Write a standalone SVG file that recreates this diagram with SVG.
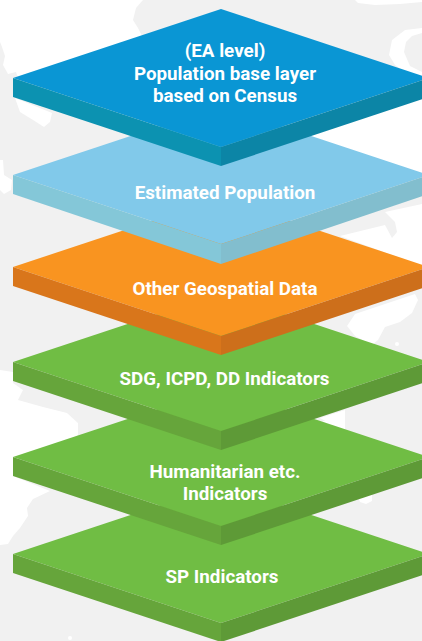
<svg xmlns="http://www.w3.org/2000/svg" width="422" height="641" viewBox="0 0 422 641">
<style>
text{font-family:Roboto,"Liberation Sans",sans-serif;font-weight:700;font-size:18.8px;fill:#fff;text-anchor:middle}
.w{fill:#fff}
.g1{fill:#70bd44}.g2{fill:#66a53b}.g3{fill:#5e9a37}
</style>
<rect width="422" height="641" fill="#f1f1f1"/>
<g id="map">
<path class="w" d="M0 0H143L136 8L133 20L138 28L142 36L18 78L16 72L8 74L3 65L5 56L2 47L0 42Z"/>
<path class="w" d="M15 98L52 113L50 122L44 127L33 120L20 112Z"/>
<path class="w" d="M0 160L3 160L4 175L12 180L11 190L4 194L0 190Z"/>
<path class="w" d="M355 0H422V2L400 4L375 5L358 3Z"/>
<path class="w" d="M422 28L405 30L392 40L389 55L395 65L405 72L422 78V72L410 66L404 52L406 42L412 36L422 33Z"/>
<path class="w" d="M300 130L422 85V176L315 140Z"/>
<path class="w" d="M385 212L422 204V266L340 236L385 225L392 238L397 232L395 222Z"/>
<path class="w" d="M355 314L415 294L418 300L412 313L400 322L385 327L378 340L372 345L355 336L347 326Z"/>
<circle class="w" cx="397" cy="344" r="2"/>
<path class="w" d="M320 418L345 410V430L338 428Z"/>
<path class="w" d="M322 421H344V428L335 428Z"/>
<path class="w" d="M358 497L372 492V501L366 504L360 502Z"/>
<path class="w" d="M0 370L13 372L13 383L23 390L18 400L43 407L67 413L78 423L78 435L70 440L20 458L13 476L50 491L33 499L27 508L28 516L20 528L13 536L8 544L0 545Z"/>
<circle class="w" cx="70" cy="638" r="2"/>
</g>
<g id="connectors"></g>
<g id="sp-indicators">
<path class="g1" d="M221 485L429 554L221 623L13 554Z"/><path class="g2" d="M13 554L221 623V642L13 573Z"/><path class="g3" d="M221 623L429 554V573L221 642Z"/>
<text x="222" y="583">SP Indicators</text>
</g>
<g id="humanitarian-indicators">
<path class="g1" d="M221 388L429 457L221 526L13 457Z"/><path class="g2" d="M13 457L221 526V545L13 476Z"/><path class="g3" d="M221 526L429 457V476L221 545Z"/>
<text x="225" y="478">Humanitarian etc.</text><text x="225" y="500">Indicators</text>
</g>
<g id="sdg-indicators">
<path class="g1" d="M221 293L429 362L221 431L13 362Z"/><path class="g2" d="M13 362L221 431V450L13 381Z"/><path class="g3" d="M221 431L429 362V381L221 450Z"/>
<text x="224.500" y="385">SDG, ICPD, DD Indicators</text>
</g>
<g id="other-geospatial-data">
<path fill="#f99420" d="M221 198L429 267L221 336L13 267Z"/><path fill="#d9761b" d="M13 267L221 336V355L13 286Z"/><path fill="#cd6f1b" d="M221 336L429 267V286L221 355Z"/>
<text x="225" y="295">Other Geospatial Data</text>
</g>
<g id="estimated-population">
<path fill="#81c9ea" d="M221 106L429 175L221 244L13 175Z"/><path fill="#84c7d8" d="M13 175L221 244V264L13 194Z"/><path fill="#82bece" d="M221 244L429 175V194L221 264Z"/>
<text x="225" y="199">Estimated Population</text>
</g>
<g id="population-base-layer">
<path fill="#0a96d4" d="M221 9L429 78L221 147L13 78Z"/><path fill="#0c92b1" d="M13 78L221 147V166L13 97Z"/><path fill="#0c85a6" d="M221 147L429 78V97L221 166Z"/>
<text x="225" y="57">(EA level)</text><text x="225" y="80">Population base layer</text><text x="225" y="102">based on Census</text>
</g>
</svg>
